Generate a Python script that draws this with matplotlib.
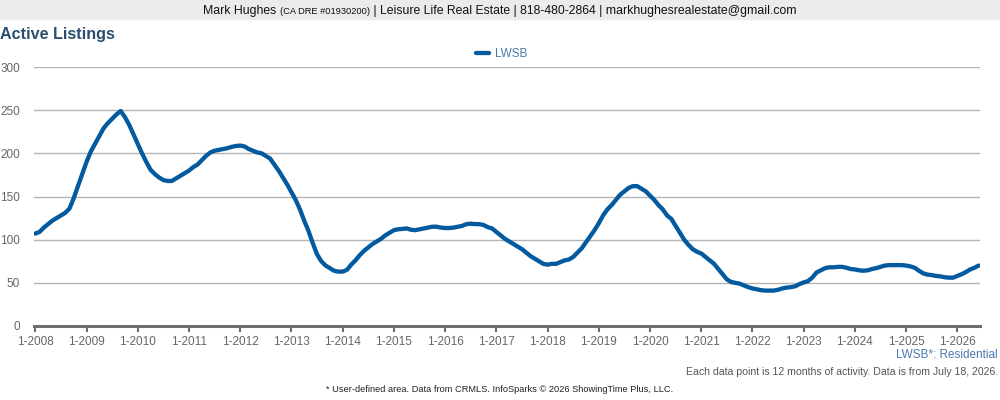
# Active Listings chart - LWSB residential, 12-month rolling
import matplotlib
matplotlib.use('Agg')
import matplotlib.pyplot as plt
import numpy as np

plt.rcParams['font.family'] = ['Liberation Sans', 'DejaVu Sans']

# %% Data (monthly, Jan 2008 - Jun 2026)
years = list(range(2008, 2027))
tick_labels = ['1-' + str(y) for y in years]

lwsb = [
    # 2008
    107, 109, 114, 118, 122, 125, 128, 131, 136, 148, 162, 176,
    # 2009
    190, 202, 211, 220, 229, 235, 240, 245, 249, 242, 233, 222,
    # 2010
    211, 200, 190, 181, 176, 172, 169, 168, 168, 171, 174, 177,
    # 2011
    180, 184, 187, 192, 197, 201, 203, 204, 205, 206, 207.5, 208.5,
    # 2012
    209, 208, 205, 203, 201, 200, 197, 194, 187, 180, 172, 164,
    # 2013
    155, 146, 135, 122, 110, 96, 83, 75, 70, 67, 64, 63,
    # 2014
    63, 65, 71, 76, 82, 87, 91, 95, 98, 101, 105, 108,
    # 2015
    111, 112, 112.5, 113, 111.5, 111, 112, 113, 114, 115, 115, 114,
    # 2016
    113.5, 113.5, 114, 115, 116, 118, 118.5, 118, 118, 117, 114.5, 113,
    # 2017
    109, 105, 101, 98, 95, 92, 89, 85, 81, 78, 75, 72,
    # 2018
    71, 72, 72, 74, 76, 77, 80, 85, 90, 97, 104, 111,
    # 2019
    119, 128, 135, 140, 146, 152, 156, 160, 162, 162, 159, 156,
    # 2020
    151, 146, 140, 135, 128, 124, 116, 108, 100, 94, 89, 86,
    # 2021
    84, 80, 76, 72, 66, 60, 54, 51, 50, 49, 47, 45,
    # 2022
    43.5, 42.5, 41.5, 41, 41, 41, 42, 43.5, 44.5, 45, 46, 48.5,
    # 2023
    50.5, 52, 56, 62, 64.5, 67, 68, 68, 68.5, 68.5, 67.5, 66,
    # 2024
    65.5, 64.5, 64, 64.5, 66, 67, 68.5, 70, 70.5, 70.5, 70.5, 70.5,
    # 2025
    70, 69, 67.5, 64, 61, 59.5, 59, 58, 57.5, 56.5, 56, 56,
    # 2026
    58, 60, 62.5, 65.5, 67.5, 70,
]

header_parts = [
    ('Mark Hughes ', 8.8),
    ('(CA DRE #01930200)', 6.7),
    (' | Leisure Life Real Estate | 818-480-2864 | markhughesrealestate@gmail.com', 8.8),
]

# %% Colors
line_color = '#045a9f'
title_color = '#2b4e6c'
grid_color = '#b4b4b4'
axis_color = '#6e6e6e'
label_color = '#666666'
note_blue = '#4b79ad'

months = np.arange(len(lwsb))
fsize = 8.5

fig = plt.figure(figsize=(10, 4), dpi=100)

# header band
fig.patches.append(plt.Rectangle((0, 1 - 19/400), 1, 19/400, transform=fig.transFigure,
                                 color='#ebebeb', zorder=0))

# header text made of pieces with different sizes, centred as a whole
renderer = fig.canvas.get_renderer()
pieces = []
x = 0
for txt, fs in header_parts:
    t = fig.text(x, 1 - 14/400, txt, ha='left', va='baseline', fontsize=fs, color='#111111')
    w = t.get_window_extent(renderer).width / 1000
    pieces.append((t, x))
    x += w
start = 0.5 - x / 2
for t, off in pieces:
    t.set_x(start + off)

ax = fig.add_axes([0.034, 0.185, 0.946, 0.6475])
ax.plot(months, lwsb, color=line_color, lw=3.1, solid_capstyle='round',
        solid_joinstyle='round', label='LWSB', zorder=5)

ax.set_xlim(-0.3, len(lwsb) - 0.7)
ax.set_ylim(0, 300)
ax.set_yticks(np.arange(0, 301, 50))
ax.set_xticks(np.arange(0, len(lwsb), 12))
ax.set_xticklabels(tick_labels)
ax.grid(axis='y', color=grid_color, lw=1)
ax.set_axisbelow(True)

for s in ['top', 'right', 'left']:
    ax.spines[s].set_visible(False)
ax.spines['bottom'].set_color(axis_color)
ax.spines['bottom'].set_linewidth(2.2)
ax.spines['bottom'].set_zorder(6)
ax.tick_params(axis='x', length=4, width=1.5, color=axis_color, labelcolor=label_color,
               labelsize=fsize, pad=3)
ax.tick_params(axis='y', length=0, labelcolor=label_color, labelsize=fsize, pad=10)

ax.legend(loc='lower center', bbox_to_anchor=(0.494, 1.0), frameon=False, fontsize=fsize,
          handlelength=1.1, handletextpad=0.5, labelcolor=note_blue, borderaxespad=0.2)

fig.text(0.0, 1 - 34/400, 'Active Listings', ha='left', va='center', fontsize=11.6,
         fontweight='bold', color=title_color)
fig.text(0.998, 1 - 355/400, 'LWSB*: Residential', ha='right', va='center',
         fontsize=8.5, color=note_blue)
fig.text(0.998, 1 - 372/400,
         'Each data point is 12 months of activity. Data is from July 18, 2026.',
         ha='right', va='center', fontsize=7.6, color='#555555')
fig.text(0.5, 1 - 390/400,
         '* User-defined area. Data from CRMLS. InfoSparks \u00a9 2026 ShowingTime Plus, LLC.',
         ha='center', va='center', fontsize=6.7, color='#222222')

fig.savefig('out.png', dpi=100)
